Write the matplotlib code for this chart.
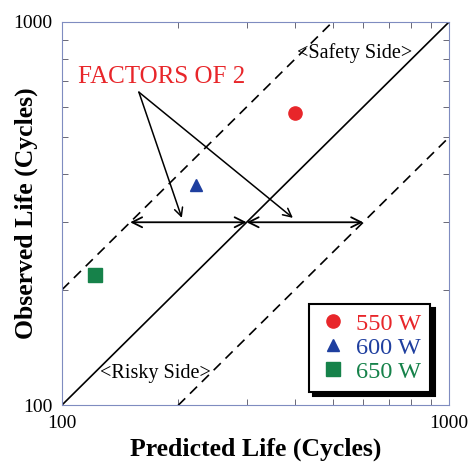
import numpy as np
import matplotlib.pyplot as plt
from matplotlib.lines import Line2D

plt.rcParams['font.family'] = ['Liberation Serif', 'DejaVu Serif']

# Data
labels = ['550 W', '600 W', '650 W']
predicted = [400, 222, 122]
observed = [580, 375, 218]
colors = ['#e8262a', '#1f3f9f', '#16824a']
markers = ['o', '^', 's']

# Reference lines (1:1 and factors of 2)
line_x = [100, 1000]
factor = 2.0

fig = plt.figure(figsize=(4.72, 4.63), dpi=100)
ax = fig.add_axes([62/472, 1 - 405/463, 387/472, 383/463])
ax.set_xscale('log')
ax.set_yscale('log')
ax.set_xlim(100, 1000)
ax.set_ylim(100, 1000)

lx = np.array(line_x, dtype=float)
ax.plot(lx, lx, 'k-', lw=1.2)
ax.plot(lx, lx*factor, 'k', lw=1.2, dashes=(6, 4))
ax.plot(lx, lx/factor, 'k', lw=1.2, dashes=(6, 4))

sizes = {'o': 9.5, '^': 8.5, 's': 10}
for px, py, c, m in zip(predicted, observed, colors, markers):
    ax.plot(px, py, marker=m, color=c, ms=sizes[m], ls='none', zorder=5)

# Factor-of-2 arrows
arrow_y = 300
ax.annotate('', xy=(150, arrow_y), xytext=(300, arrow_y),
            arrowprops=dict(arrowstyle='<->', color='k', lw=1.3, shrinkA=0, shrinkB=0,
                            mutation_scale=18))
ax.annotate('', xy=(300, arrow_y), xytext=(600, arrow_y),
            arrowprops=dict(arrowstyle='<->', color='k', lw=1.3, shrinkA=0, shrinkB=0,
                            mutation_scale=18))
for tx in [204, 395]:
    ax.annotate('', xy=(tx, 308), xytext=(158, 656),
                arrowprops=dict(arrowstyle='->', color='k', lw=1.1, shrinkA=0, shrinkB=0,
                                mutation_scale=15))
ax.text(110, 720, 'FACTORS OF 2', color='#e8262a', fontsize=18, va='center')
ax.text(404, 830, '<Safety Side>', fontsize=14.5, va='center')
ax.text(125, 121, '<Risky Side>', fontsize=14.5, va='center')

# Axes styling
spine_c = '#7f8cc0'
for s in ax.spines.values():
    s.set_color(spine_c)
ax.tick_params(which='both', direction='in', top=True, right=True, color='#505060')
ax.tick_params(which='major', length=0, labelsize=14, pad=7)
ax.tick_params(which='minor', length=4)
ax.set_xticks([100, 1000])
ax.set_xticklabels(['100', '1000'])
ax.set_yticks([100, 1000])
ax.set_yticklabels(['100', '1000'])
ax.yaxis.set_minor_formatter(plt.NullFormatter())
ax.xaxis.set_minor_formatter(plt.NullFormatter())

ax.set_xlabel('Predicted Life (Cycles)', fontsize=18.5, fontweight='bold', labelpad=4)
ax.set_ylabel('Observed Life (Cycles)', fontsize=18.5, fontweight='bold')
ax.yaxis.set_label_coords(-0.062, 0.5)

handles = [Line2D([], [], marker=m, color=c, ls='none', ms=sizes[m]) for c, m in zip(colors, markers)]
leg = ax.legend(handles, labels, loc='lower right', fontsize=17.5, frameon=True,
                fancybox=False, edgecolor='k', framealpha=1, handletextpad=0.35,
                handlelength=1.2, labelspacing=0.08, borderpad=0.38,
                borderaxespad=0, bbox_to_anchor=(0.952, 0.034),
                shadow={'color': 'black', 'alpha': 1, 'ox': 3, 'oy': -3})
leg.get_frame().set_linewidth(1.5)
for t, c in zip(leg.get_texts(), colors):
    t.set_color(c)

fig.savefig('out.png', dpi=100)
